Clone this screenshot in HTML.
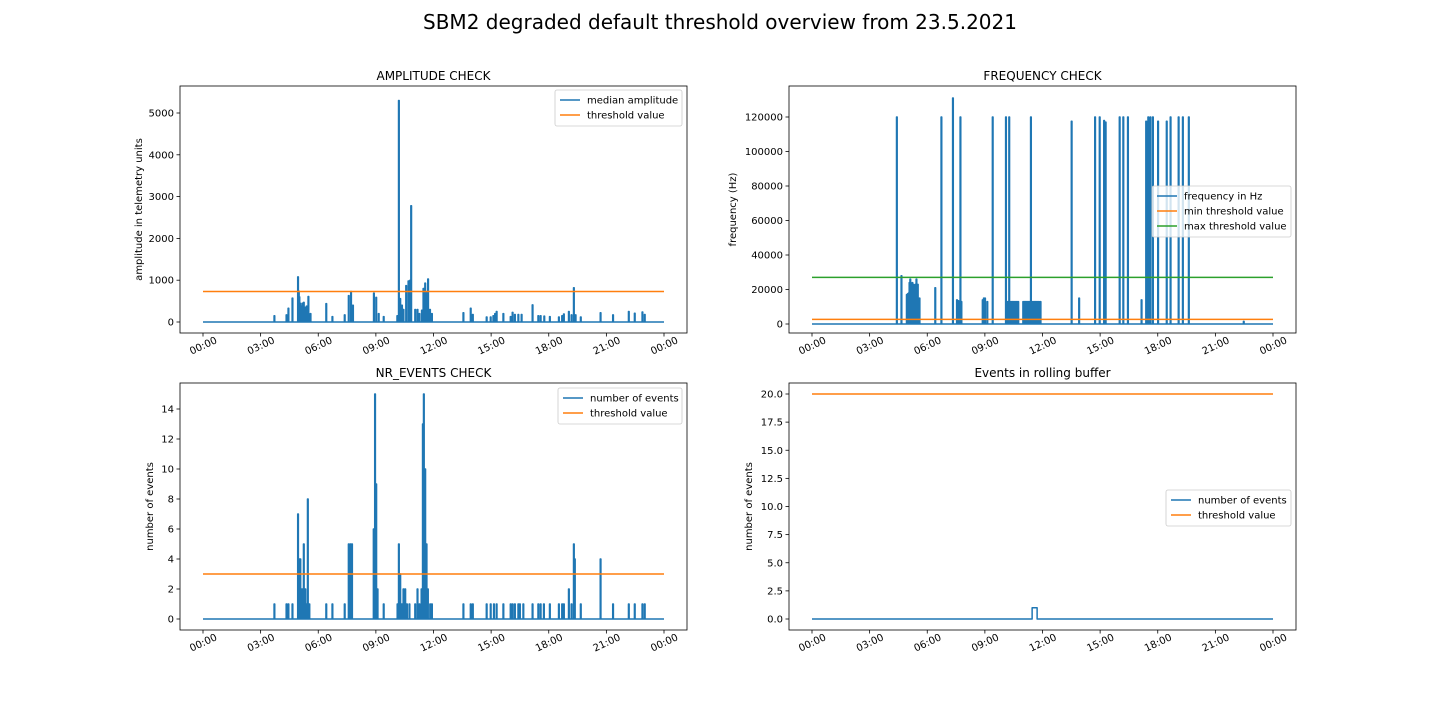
<!DOCTYPE html>
<html><head><meta charset="utf-8"><style>
body{margin:0;background:#fff;}
svg{display:block;font-family:"DejaVu Sans","Liberation Sans",sans-serif;}
</style></head><body>
<svg id="fig" width="1440" height="720" viewBox="0 0 1440 720">
<rect width="1440" height="720" fill="#fff"/>
<text x="720" y="29" font-size="20" text-anchor="middle" fill="#000">SBM2 degraded default threshold overview from 23.5.2021</text>
</svg>
<script>
// ---- data ----
const xTickLabels = ["00:00","03:00","06:00","09:00","12:00","15:00","18:00","21:00","00:00"];
const ampHours = [3.7,4.33,4.43,4.64,4.93,4.97,5.0,5.04,5.08,5.12,5.16,5.23,5.3,5.38,5.47,5.58,6.4,6.72,7.36,7.57,7.69,7.79,8.88,9.0,9.13,9.39,10.1,10.18,10.25,10.34,10.42,10.56,10.68,10.77,10.82,11.03,11.15,11.25,11.38,11.46,11.55,11.62,11.7,11.8,11.9,13.54,13.92,14.03,14.75,14.96,15.1,15.19,15.27,15.62,16.0,16.1,16.22,16.4,16.57,17.14,17.44,17.56,17.75,18.04,18.51,18.68,18.77,19.03,19.17,19.29,19.38,19.65,20.68,21.33,22.15,22.46,22.86,22.98];
const ampValues = [150,170,330,570,1080,740,600,450,380,300,450,470,350,380,610,200,440,130,170,630,730,400,690,590,200,130,150,5300,560,400,300,870,980,1000,2780,300,300,200,280,800,930,700,1030,300,200,220,330,180,120,120,150,200,250,200,130,230,180,180,180,410,150,150,140,130,120,150,190,250,170,820,170,120,220,170,250,210,240,180];
const ampThreshold = 730;
const ampTicks = [0,1000,2000,3000,4000,5000];

const freqHours = [4.4,4.64,4.92,4.97,5.02,5.06,5.1,5.16,5.21,5.26,5.32,5.37,5.42,5.49,5.58,6.4,6.72,7.32,7.53,7.6,7.71,7.76,8.87,8.93,8.99,9.11,9.39,10.08,10.14,10.2,10.25,10.3,10.36,10.42,10.48,10.54,10.6,10.66,10.72,10.98,11.04,11.1,11.16,11.22,11.28,11.34,11.38,11.44,11.5,11.56,11.62,11.68,11.74,11.8,11.88,13.5,13.89,14.72,14.96,15.19,15.27,16.0,16.19,16.43,17.14,17.38,17.49,17.6,17.73,18.0,18.45,18.65,19.07,19.29,19.6,22.46];
const freqValues = [120000,28000,17000,17500,18000,24000,26000,23000,24000,23000,22000,23000,26000,23000,15000,21000,120000,131000,14000,13500,120000,13000,14000,15000,15000,13000,120000,120000,13000,13000,120000,13000,13000,13000,13000,13000,13000,13000,13000,13000,13000,13000,13000,13000,13000,13000,120000,13000,13000,13000,13000,13000,13000,13000,13000,117500,15000,120000,120000,118000,117000,120000,120000,120000,14000,117500,120000,120000,120000,117500,117500,120000,120000,120000,120000,1500];
const freqMinThreshold = 2700;
const freqMaxThreshold = 27000;
const freqTicks = [0,20000,40000,60000,80000,100000,120000];

const evHours = [3.7,4.33,4.43,4.64,4.93,5.0,5.05,5.14,5.23,5.31,5.37,5.44,5.52,6.4,6.72,7.36,7.57,7.66,7.74,8.87,8.94,9.0,9.07,9.39,10.11,10.18,10.25,10.34,10.42,10.51,10.6,10.73,11.03,11.15,11.25,11.36,11.43,11.48,11.55,11.62,11.69,11.81,11.9,13.54,13.92,14.03,14.75,14.96,15.13,15.27,15.62,16.0,16.1,16.22,16.4,16.48,16.66,17.14,17.44,17.56,17.73,18.04,18.51,18.68,18.77,19.03,19.17,19.29,19.34,19.65,20.68,21.33,22.15,22.46,22.86,22.98];
const evValues = [1,1,1,1,7,4,4,2,5,2,1,8,1,1,1,1,5,5,5,6,15,9,2,1,1,5,3,1,2,2,1,1,1,2,1,2,13,15,10,5,2,1,1,1,1,1,1,1,1,1,1,1,1,1,1,1,1,1,1,1,1,1,1,1,1,2,1,5,4,1,4,1,1,1,1,1];
const evThreshold = 3;
const evTicks = [0,2,4,6,8,10,12,14];

const rollStart = [11.46];
const rollEnd = [11.72];
const rollValues = [1];
const rollThreshold = 20;
const rollTicks = [0,2.5,5,7.5,10,12.5,15,17.5,20];

// ---- drawing ----
const NS="http://www.w3.org/2000/svg";
const svg=document.getElementById('fig');
function mk(tag,attrs,parent){const e=document.createElementNS(NS,tag);for(const k in attrs)e.setAttribute(k,attrs[k]);(parent||svg).appendChild(e);return e;}
const BLUE="#1f77b4",ORANGE="#ff7f0e",GREEN="#2ca02c";

function panel(p){
  const g=mk('g',{});
  
  
  const L=p.x0,T=p.y0,R=p.x0+507,B=p.y0+247;
  const xs=h=>L+23+h*(461/24);
  const ys=v=>p.zeroY-v*p.pxPer;
  // lines
  function addLine(pts,color,nm){
    const d=pts.map((q,i)=>(i?'L':'M')+xs(q[0]).toFixed(2)+' '+ys(q[1]).toFixed(2)).join(' ');
    const e=mk('path',{d:d,fill:'none',stroke:color,'stroke-width':1.5,'stroke-linejoin':'round'},g);
    
    
  }
  // ticks y
  p.yTicks.forEach(v=>{
    const y=ys(v);
    mk('line',{x1:L-3.5,x2:L,y1:y,y2:y,stroke:'#000','stroke-width':0.8},g);
    const t=mk('text',{x:L-6,y:y+3.5,'font-size':10,'text-anchor':'end',fill:'#000'},g);
    t.textContent=p.fmt?p.fmt(v):String(v);
    
    
  });
  xTickLabels.forEach((lab,i)=>{
    const x=xs(i*3);
    mk('line',{x1:x,x2:x,y1:B,y2:B+3.5,stroke:'#000','stroke-width':0.8},g);
    const t=mk('text',{x:x,y:B+16,'font-size':10,'text-anchor':'middle',fill:'#000',transform:`rotate(-25 ${x} ${B+12})`},g);
    t.textContent=lab;
    
    
  });
  p.draw(addLine,xs,ys);
  mk('rect',{x:L,y:T,width:507,height:247,fill:'none',stroke:'#000','stroke-width':0.8},g);
  const tt=mk('text',{x:(L+R)/2,y:T-6,'font-size':12,'text-anchor':'middle',fill:'#000'},g);
  tt.textContent=p.title;
  
  
  const yl=mk('text',{x:0,y:0,'font-size':10,'text-anchor':'middle',fill:'#000',transform:`translate(${p.ylx} ${(T+B)/2}) rotate(-90)`},g);
  yl.textContent=p.ylabel;
  
  
  // legend
  const lg=mk('g',{},g);
  
  
  const h=p.legend.length*15+6;
  mk('rect',{x:p.lx,y:p.ly,width:p.lw,height:h,rx:2,fill:'#fff','fill-opacity':0.8,stroke:'#ccc','stroke-width':0.8},lg);
  p.legend.forEach((e,i)=>{
    const y=p.ly+10+i*15;
    mk('line',{x1:p.lx+5,x2:p.lx+25,y1:y,y2:y,stroke:e[1],'stroke-width':1.5},lg);
    const t=mk('text',{x:p.lx+32,y:y+3.5,'font-size':10,fill:'#000'},lg);
    t.textContent=e[0];
    
    
  });
}
function spikes(hours,vals){
  const idx=hours.map((h,i)=>i).sort((a,b)=>hours[a]-hours[b]);
  const pts=[[0,0]];
  idx.forEach(i=>{const h=hours[i],w=0.035;pts.push([h,0],[h,vals[i]],[h+w,vals[i]],[h+w,0]);});
  pts.push([24,0]);return pts;
}
panel({name:'amplitude-panel',x0:180,y0:86,zeroY:322,pxPer:209/5000,yTicks:ampTicks,title:'AMPLITUDE CHECK',ylabel:'amplitude in telemetry units',ylx:142,
  lx:555,ly:90,lw:127,legend:[['median amplitude',BLUE],['threshold value',ORANGE]],
  draw:(add)=>{add(spikes(ampHours,ampValues),BLUE,'median-amplitude-line');add([[0,ampThreshold],[24,ampThreshold]],ORANGE,'threshold-line');}});
panel({name:'frequency-panel',x0:789,y0:86,zeroY:324,pxPer:207/120000,yTicks:freqTicks,title:'FREQUENCY CHECK',ylabel:'frequency (Hz)',ylx:736,
  lx:1152,ly:186,lw:139,legend:[['frequency in Hz',BLUE],['min threshold value',ORANGE],['max threshold value',GREEN]],
  draw:(add)=>{add(spikes(freqHours,freqValues),BLUE,'frequency-line');add([[0,freqMinThreshold],[24,freqMinThreshold]],ORANGE,'min-threshold-line');add([[0,freqMaxThreshold],[24,freqMaxThreshold]],GREEN,'max-threshold-line');}});
panel({name:'events-panel',x0:180,y0:383,zeroY:619,pxPer:15,yTicks:evTicks,title:'NR_EVENTS CHECK',ylabel:'number of events',ylx:153,
  lx:558,ly:388,lw:124,legend:[['number of events',BLUE],['threshold value',ORANGE]],
  draw:(add)=>{add(spikes(evHours,evValues),BLUE,'events-line');add([[0,evThreshold],[24,evThreshold]],ORANGE,'threshold-line');}});
panel({name:'rolling-buffer-panel',x0:789,y0:383,zeroY:619,pxPer:225/20,yTicks:rollTicks,fmt:v=>v.toFixed(1),title:'Events in rolling buffer',ylabel:'number of events',ylx:752,
  lx:1166,ly:490,lw:125,legend:[['number of events',BLUE],['threshold value',ORANGE]],
  draw:(add)=>{const pts=[[0,0]];rollStart.forEach((s,i)=>{pts.push([s,0],[s,rollValues[i]],[rollEnd[i],rollValues[i]],[rollEnd[i],0]);});pts.push([24,0]);
    add(pts,BLUE,'rolling-events-line');add([[0,rollThreshold],[24,rollThreshold]],ORANGE,'threshold-line');}});
</script>
</body></html>
